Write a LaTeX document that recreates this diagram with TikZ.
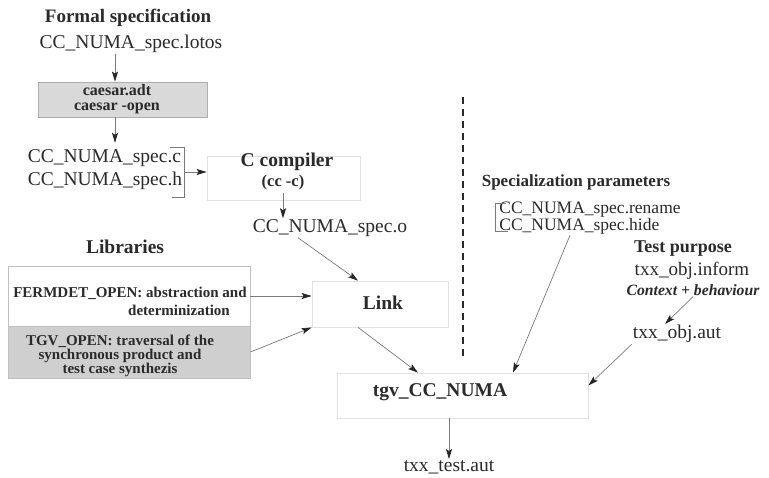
\documentclass[tikz,border=0pt]{standalone}
\usepackage{fontspec}
\setmainfont{Liberation Serif}
\usetikzlibrary{arrows.meta}
\definecolor{ink}{HTML}{2A2A2A}
\definecolor{faint}{HTML}{E2E2E2}
\definecolor{boxgray}{HTML}{D9D9D9}
\definecolor{libgray}{HTML}{CFCFCF}
\definecolor{linegray}{HTML}{7A7A7A}
\tikzset{
  txt/.style={inner sep=1pt, text=ink, font=\fontsize{19.5}{21}\selectfont},
  hdr/.style={inner sep=1pt, text=ink, font=\fontsize{19}{21}\selectfont\bfseries},
  lt/.style={inner sep=1pt, text=ink, font=\fontsize{15}{13.5}\selectfont\bfseries},
  faintbox/.style={draw=faint, line width=0.8pt, inner sep=0pt},
  graybox/.style={draw=linegray!60, fill=boxgray, line width=0.8pt, inner sep=0pt},
  libbox/.style={draw=faint!85!black, line width=0.8pt, inner sep=0pt},
  brk/.style={draw=linegray, line width=0.8pt},
  arr/.style={draw=linegray, line width=0.7pt, -{Stealth[length=10pt, width=6pt, inset=2pt, color=black!85]}},
  dashline/.style={draw=ink, line width=2.2pt, dash pattern=on 7pt off 5pt}
}
\begin{document}
\begin{tikzpicture}[x=1pt, y=-1pt]
\fill[white] (0,0) rectangle (769,477);
\path[use as bounding box] (0,0) rectangle (769,477);

% Formal specification
\node[hdr] (formal) at (128,18) {Formal specification};
\node[txt] (lotos) at (131,44) {CC\_NUMA\_spec.lotos};
\coordinate (ax) at (115,0);
\node[graybox, minimum width=169, minimum height=35] (caesar) at (122.5,99.5) {};
\node[txt, inner sep=0pt, align=center, font=\fontsize{16}{15}\selectfont\bfseries] (ctext) at (117,99.5) {caesar.adt\\caesar -open};
\draw[arr] (lotos.south -| ax) -- (caesar.north -| ax);

\node[txt, align=left, font=\fontsize{19.5}{23}\selectfont] (specs) at (105,170) {CC\_NUMA\_spec.c\\CC\_NUMA\_spec.h};
\draw[arr, shorten >=6pt] (caesar.south -| ax) -- (specs.north -| ax);
\draw[brk] (170,147) -- (184,147) -- (184,197) -- (172,197);
\coordinate (bk) at (184,172);

% C compiler
\node[faintbox, minimum width=153, minimum height=44] (ccbox) at (283.5,178) {};
\node[hdr, inner sep=0pt, font=\fontsize{19.5}{21}\selectfont\bfseries] (cc) at (287,162) {C compiler};
\node[hdr, inner sep=0pt, font=\fontsize{16.5}{19}\selectfont\bfseries] (ccsub) at (283,183) {(cc -c)};
\draw[arr] (bk) -- (bk -| ccbox.west);
\node[txt] (specO) at (330,228) {CC\_NUMA\_spec.o};
\draw[arr] ([yshift=-2pt]ccsub.south) -- (ccsub.south |- specO.north);

% Link
\node[faintbox, minimum width=136, minimum height=46] (link) at (380,304) {};
\node[hdr, font=\fontsize{19.5}{21}\selectfont\bfseries] (linkt) at (383,303) {Link};
\draw[arr] ([xshift=-32pt]specO.south) -- ([xshift=-22pt]link.north);

% Libraries
\node[hdr, font=\fontsize{19.5}{21}\selectfont\bfseries] (libs) at (125,247) {Libraries};
\node[libbox, fill=white, minimum width=242, minimum height=60] (lib1) at (129,296) {};
\node[libbox, fill=libgray, minimum width=242, minimum height=52] (lib2) at (129,352) {};
\node[lt] (f1) at (130,293) {FERMDET\_OPEN: abstraction and};
\node[lt] (f2) at (179,310) {determinization};
\node[lt, align=center] (tg) at (120,356) {TGV\_OPEN: traversal of the\\synchronous product and\\test case synthezis};
\draw[arr] (lib1.east) -- (lib1.east -| link.west);
\draw[arr] (lib2.east) -- (link.south west);

% dashed separator
\draw[dashline] (463,97) -- (463,357);

% tgv
\node[faintbox, minimum width=251, minimum height=45] (tgv) at (462.5,395.5) {};
\node[hdr, font=\fontsize{19.5}{21}\selectfont\bfseries] (tgvt) at (440,392) {tgv\_CC\_NUMA};
\draw[arr] ([xshift=-22pt]link.south) -- ([xshift=-44.5pt]tgv.north);
\node[txt] (test) at (449,467) {txx\_test.aut};
\draw[arr] (tgv.south -| test) -- (test.north);

% Specialization parameters
\node[hdr, font=\fontsize{17}{19}\selectfont\bfseries] (sp) at (576,182) {Specialization parameters};
\node[txt, align=left, font=\fontsize{17.5}{15}\selectfont] (params) at (590,218) {CC\_NUMA\_spec.rename\\CC\_NUMA\_spec.hide};
\draw[brk] (506,203) -- (495,203) -- (495,231) -- (508,231);
\draw[arr] ([xshift=-20pt]params.south) -- ([xshift=50.5pt]tgv.north);

% Test purpose
\node[hdr, font=\fontsize{18}{20}\selectfont\bfseries] (tp) at (683,249) {Test purpose};
\node[txt, font=\fontsize{19}{21}\selectfont] (inform) at (692,271) {txx\_obj.inform};
\node[txt, font=\fontsize{15.7}{18}\selectfont\bfseries\itshape] (ctx) at (693,290) {Context + behaviour};
\node[txt] (objaut) at (677,334) {txx\_obj.aut};
\draw[arr] (ctx.south) -- ([xshift=-12pt]objaut.north);
\draw[arr] ([xshift=-45pt]objaut.south) -- ([yshift=10pt]tgv.east);
\end{tikzpicture}
\end{document}
